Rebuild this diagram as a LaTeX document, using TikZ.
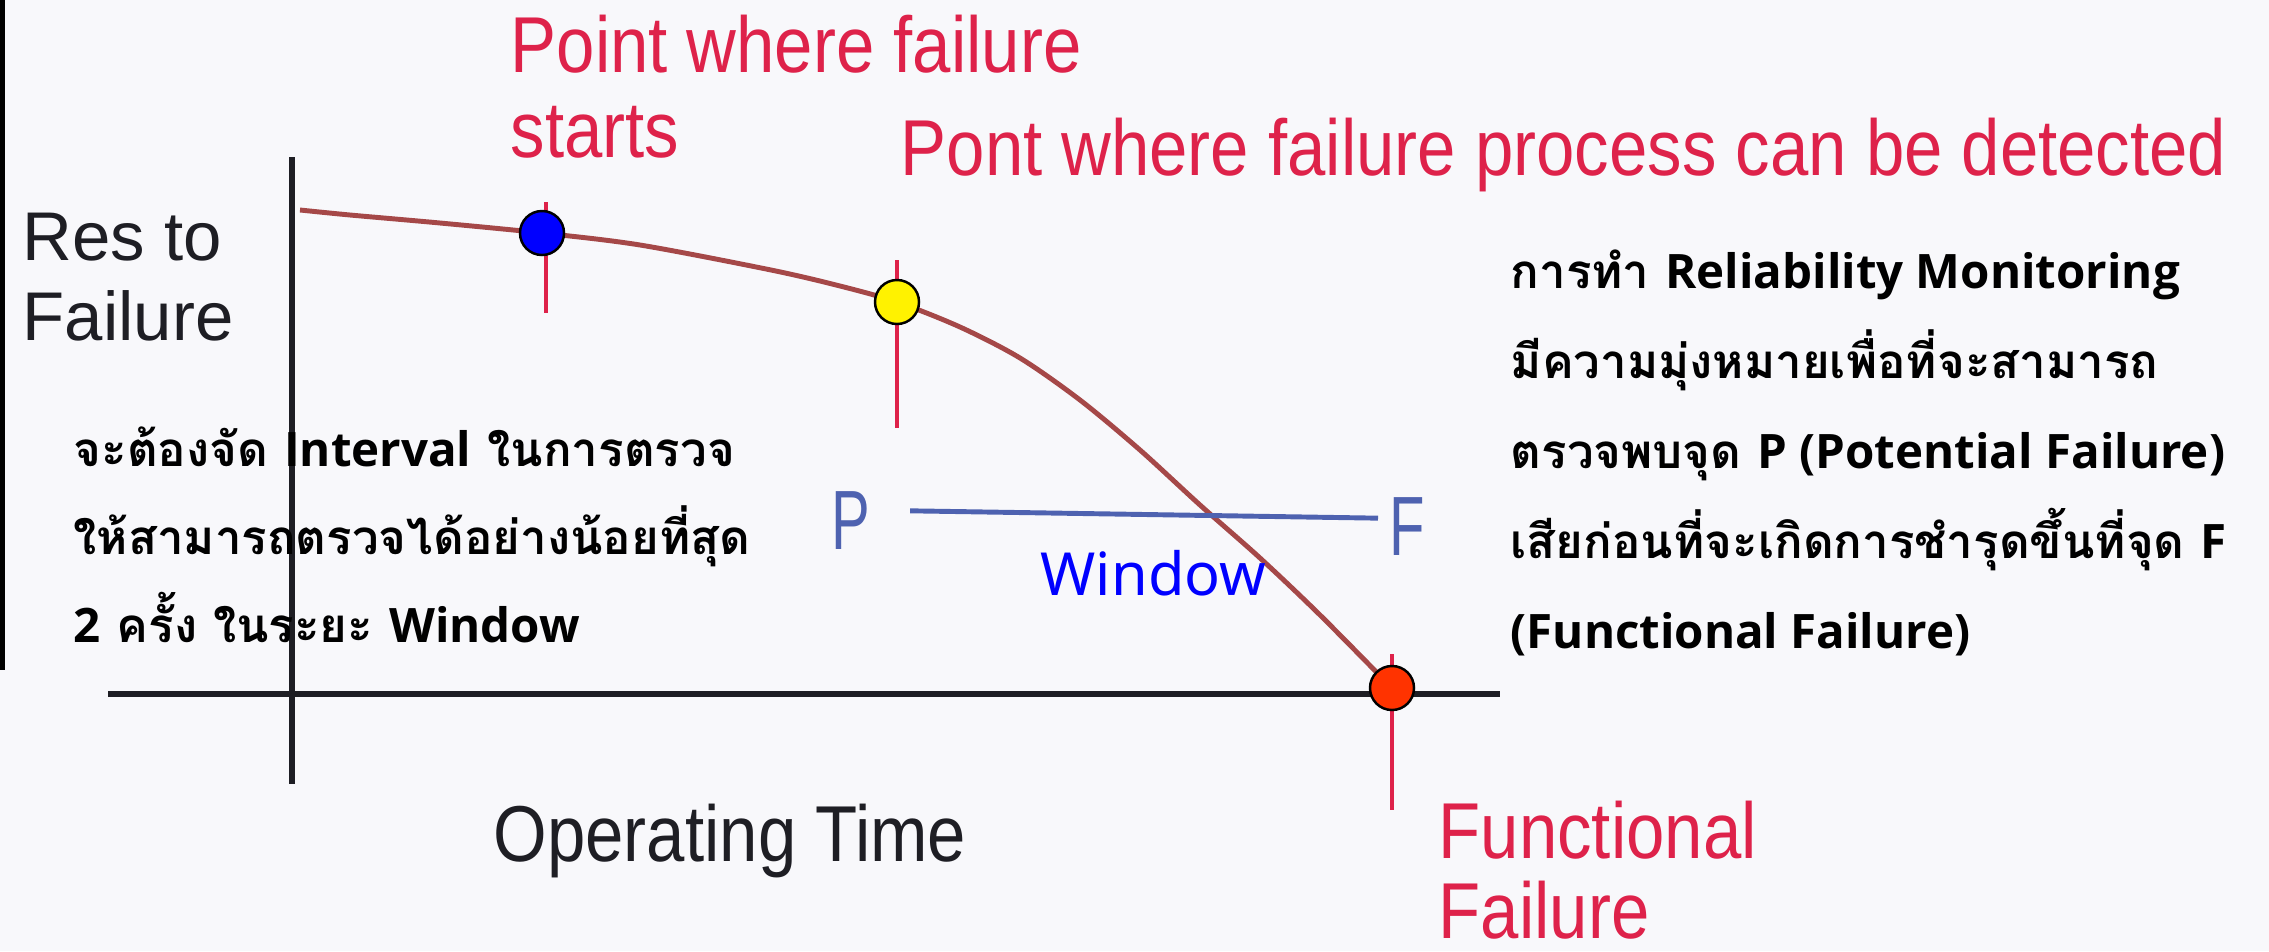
\documentclass[tikz,border=0pt]{standalone}
\usepackage{fontspec}
\usepackage{graphicx}
\setmainfont{Liberation Sans}
\newfontfamily\thaifont[Script=Thai]{Loma}
\newfontfamily\latfont{Open Sans}
\newfontfamily\winfont{Noto Sans}
\usetikzlibrary{calc}

\definecolor{lblred}{RGB}{222,34,74}
\definecolor{curvebrown}{RGB}{165,72,72}
\definecolor{pfblue}{RGB}{78,98,176}
\definecolor{axisgray}{RGB}{30,30,36}
\definecolor{paper}{RGB}{248,248,251}
\newcommand{\tall}[2][1.15]{\scalebox{1}[#1]{#2}}
\newcommand{\lat}[1]{{\latfont #1}}

\begin{document}
\begin{tikzpicture}[x=0.01cm,y=-0.01cm,
  lbl/.style={anchor=base west,inner sep=0pt,font=\fontsize{19.6}{22}\selectfont},
  thai/.style={anchor=base west,inner sep=0pt,font=\thaifont\bfseries\fontsize{13.5}{16}\selectfont},
  dot/.style={circle,draw=black,line width=0.7pt,minimum size=0.44cm,inner sep=0pt},
  tick/.style={draw=lblred,line width=1.4pt},
  axis/.style={draw=axisgray,line width=1.7pt}]

  \fill[paper] (0,0) rectangle (2269,951);
  \useasboundingbox (0,0) rectangle (2269,951);
  \fill[black] (0,0) rectangle (5,670);

  % axes
  \draw[axis] (292,157) -- (292,784);
  \draw[axis] (108,694) -- (1500,694);

  \coordinate (c0) at (300,210);
  \coordinate (ps) at (542,233);
  \coordinate (pp) at (897,302);
  \coordinate (pf) at (1392,688);

  % failure marks
  \draw[tick] (ps) ++(4,-31) -- ++(0,111);
  \draw[tick] (pp) ++(0,-42) -- ++(0,168);
  \draw[tick] (pf) ++(0,-34) -- ++(0,156);

  % resistance curve
  \draw[curvebrown,line width=1.4pt] plot[smooth,tension=0.5] coordinates
    {(c0) (350,215) (440,223) (ps) (640,245) (771,270) (840,286) (pp)
     (960,327) (1020,358) (1080,400) (1140,450) (1200,505) (1260,558)
     (1320,615) (pf)};

  \node[dot,fill=blue] (dstart) at (ps) {};
  \node[dot,fill=yellow] (ddetect) at (pp) {};
  \node[dot,fill={rgb,255:red,255;green,51;blue,0}] (dfail) at (pf) {};

  % P-F interval
  \node[lbl,text=pfblue,font=\fontsize{16.5}{20}\selectfont] (P) at (831,549) {\tall[1.45]{P}};
  \node[lbl,text=pfblue,font=\fontsize{16.5}{20}\selectfont] (F) at (1389,555) {\tall[1.45]{F}};
  \draw[pfblue,line width=1.4pt,shorten <=0.39cm,shorten >=0.11cm]
    ([yshift=2.8pt]P.east) -- ([yshift=2.2pt]F.west);
  \node[anchor=base west,inner sep=0pt,text=blue,font=\winfont\fontsize{16.9}{20}\selectfont] (win) at (1040,595) {Window};

  % labels
  \node[lbl,text=lblred] (pws1) at (510,72) {\tall{Point where failure}};
  \node[lbl,text=lblred] (pws2) at (510,157) {\tall{starts}};
  \node[lbl,text=lblred] (pwd) at (900,175) {\tall{Pont where failure process can be detected}};
  \node[lbl,text=lblred] (ff1) at (1438,858) {\tall{Functional}};
  \node[lbl,text=lblred] (ff2) at (1438,938) {\tall{Failure}};
  \node[lbl,text=axisgray] (rf1) at (22,260) {Res to};
  \node[lbl,text=axisgray] (rf2) at (22,340) {Failure};
  \node[lbl,text=axisgray] (ot) at (493,861) {\tall{Operating Time}};

  % notes
  \foreach \t [count=\i] in {การทำ \lat{Reliability Monitoring},
      มีความมุ่งหมายเพื่อที่จะสามารถ,
      ตรวจพบจุด \lat{P (Potential Failure)},
      เสียก่อนที่จะเกิดการชำรุดขึ้นที่จุด \lat{F},
      \lat{(Functional Failure)}}
    \node[thai] (nr\i) at (1510,{288+90*(\i-1)}) {\t};
  \foreach \t [count=\i] in {จะต้องจัด \lat{Interval} ในการตรวจ,
      ให้สามารถตรวจได้อย่างน้อยที่สุด,
      \lat{2} ครั้ง ในระยะ \lat{Window}}
    \node[thai] (nl\i) at (73,{466+88*(\i-1)}) {\t};
\end{tikzpicture}
\end{document}
